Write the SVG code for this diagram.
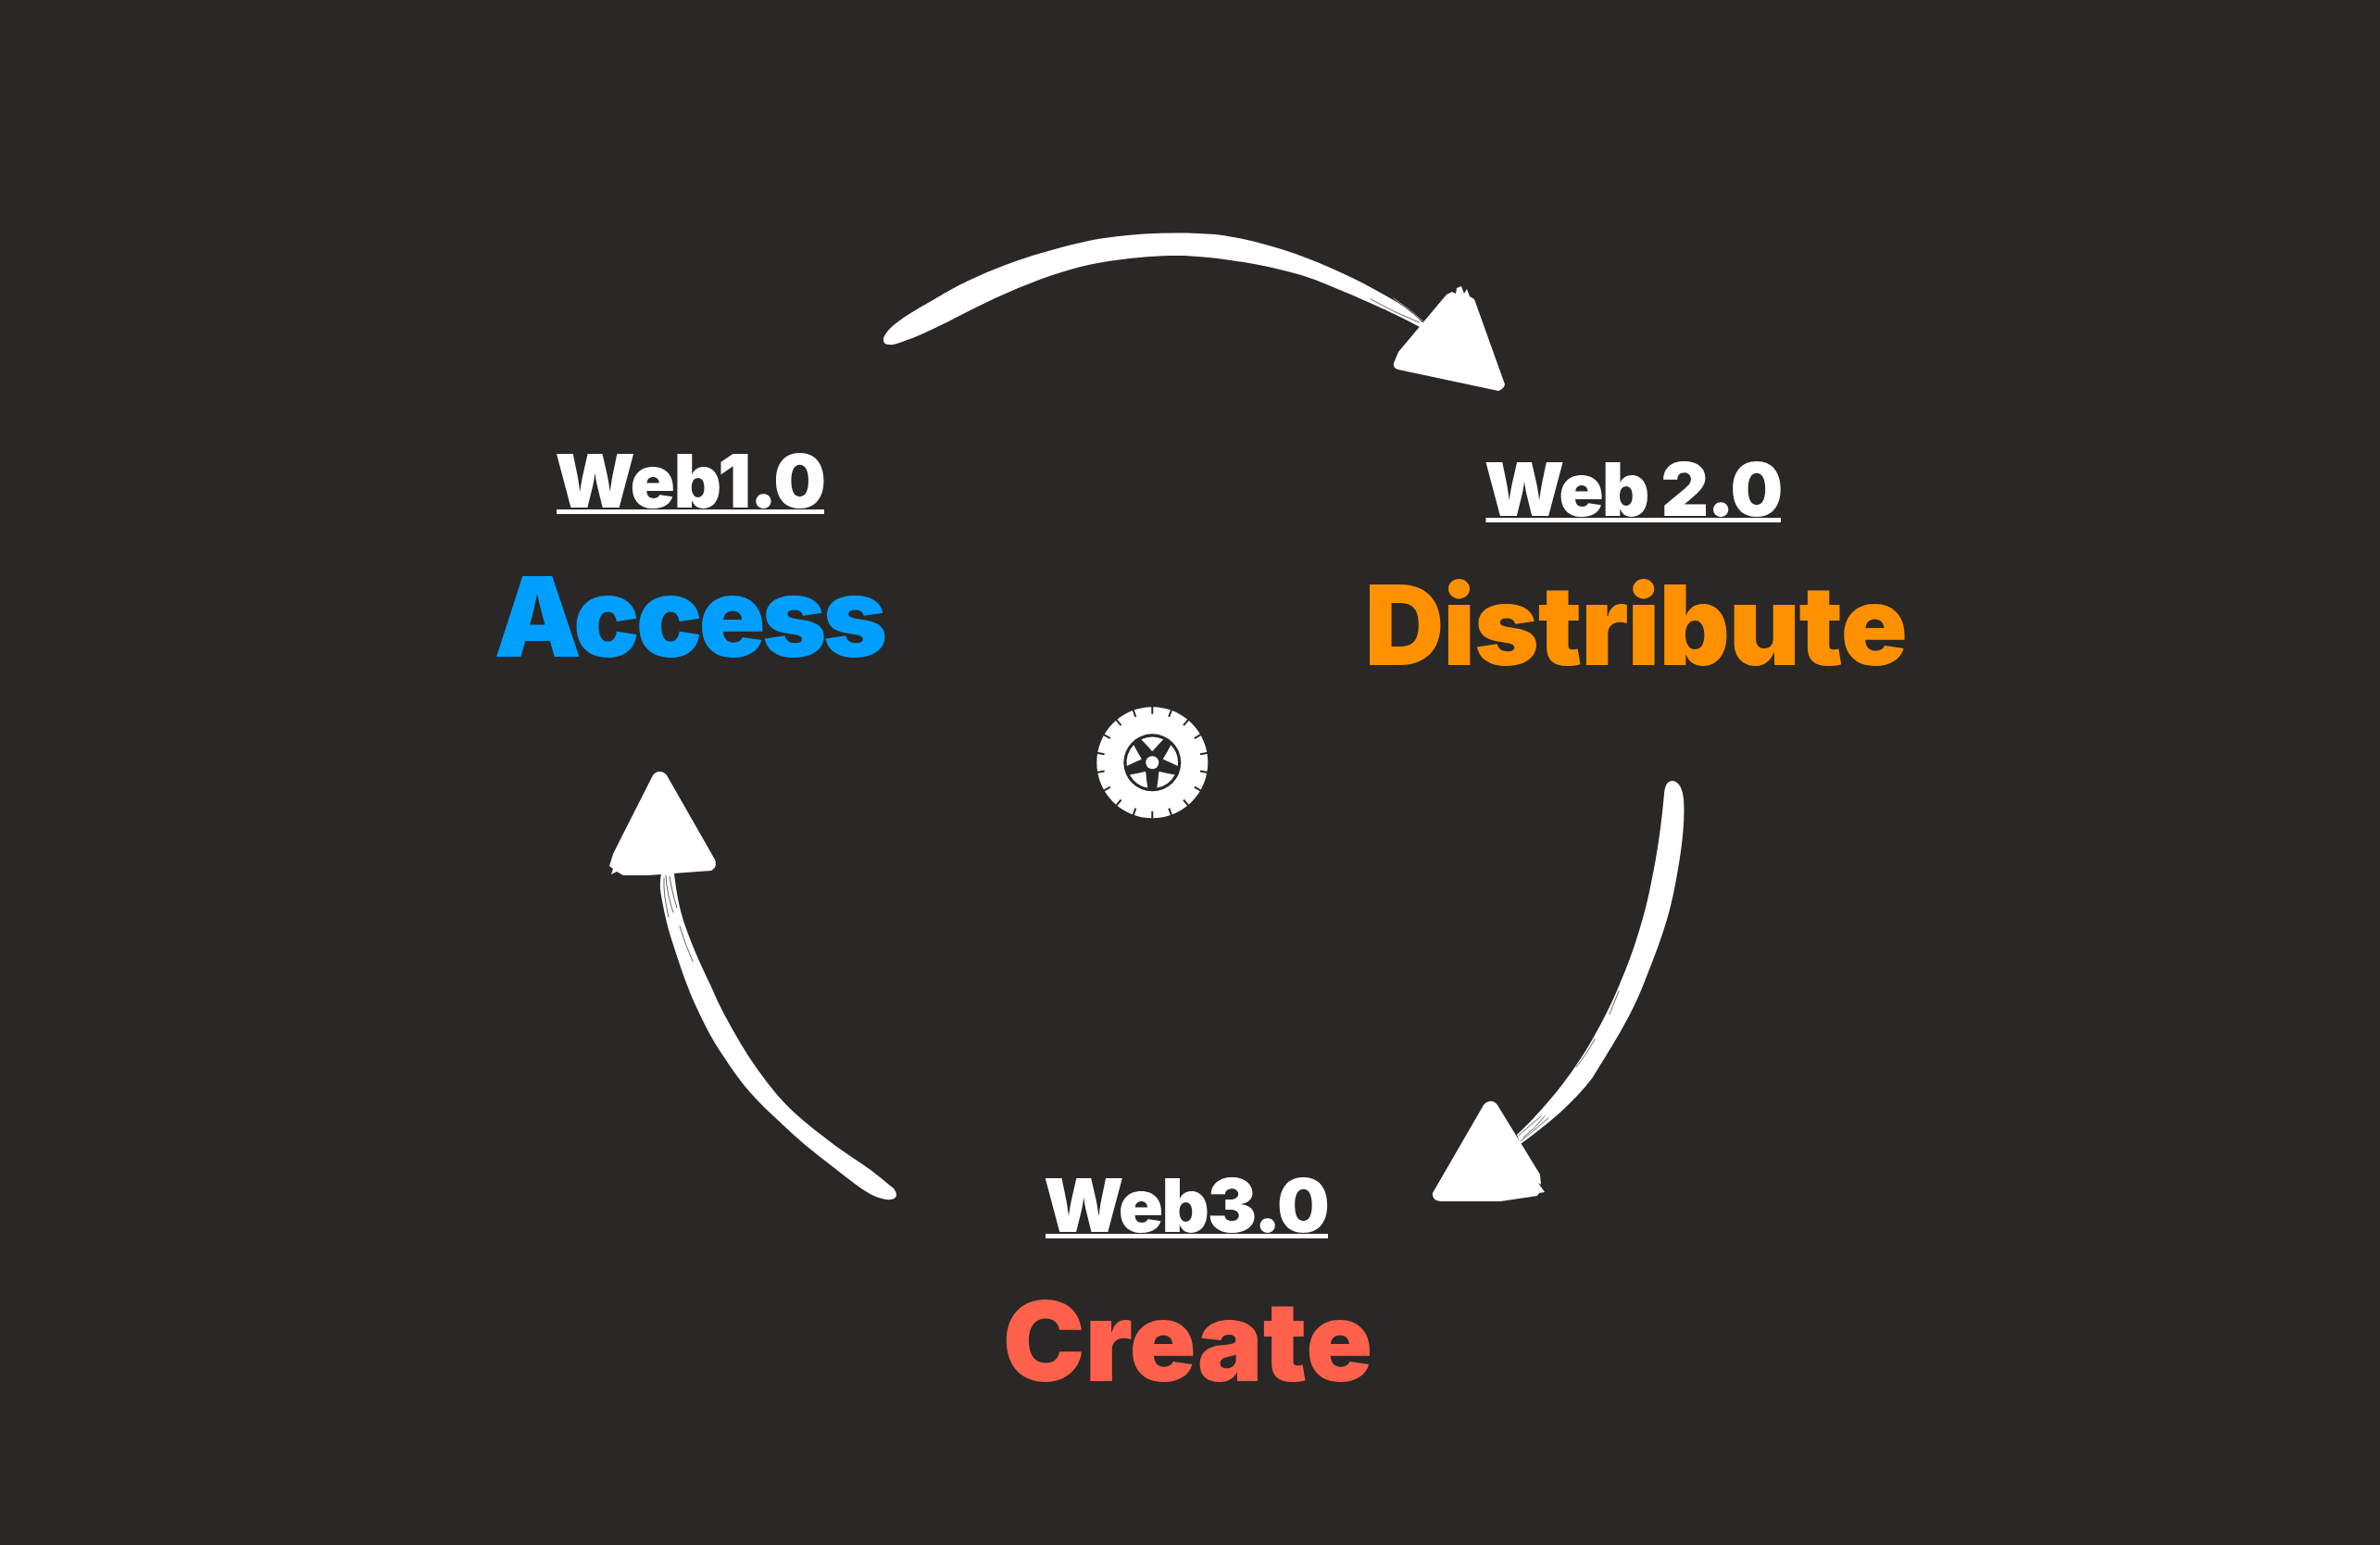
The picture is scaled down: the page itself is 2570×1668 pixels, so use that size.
<svg xmlns="http://www.w3.org/2000/svg" width="2570" height="1668" viewBox="0 0 2570 1668">
<style>
.t{font-family:"Inter","Liberation Sans",sans-serif;font-weight:900;text-anchor:middle;font-variation-settings:"opsz" 32}
.h{font-size:80px;fill:#fff}
.b{font-size:119px}
.u{fill:#fff}
.w{fill:#fff}
.d{fill:#292826}
.s{fill:none;stroke:#292826;stroke-width:1;stroke-linecap:round;opacity:.7}
.l{fill:none;stroke:#fff;stroke-width:1;stroke-linecap:round;opacity:.6}
</style>
<defs>
<path id="wedge" d="M-12-25A28 28 0 0 1 12-25Q5-18 0.5-12.5H-0.5Q-5-18-12-25Z"/>
<rect id="notch" x="-1" y="-61" width="2" height="8.5"/>
</defs>
<rect width="2570" height="1668" fill="#292826"/>
<g id="connectors" fill="#fff">
<g id="arrow-1-2">
<path d="M954 365C960 350 985 337 1014 320C1065 290 1120 272 1180 259C1225 251 1275 250 1312 253C1370 260 1440 285 1510 327Q1525 337 1538 350L1533 353C1500 335 1450 314 1420 302C1390 291 1335 279 1279 276C1235 275 1180 283 1156 291C1130 298 1095 312 1062 328C1040 338 1000 361 977 368Q965 373 960 372Q953 372 954 365Z"/>
<path d="M1578 309L1581 317L1584 312L1587 320L1592 323L1625 415Q1624 420 1618 422L1510 399Q1504 398 1505 392L1510 380L1562 318L1568 315L1572 317L1573 311Z"/>
<path class="s" d="M1340 283Q1385 291 1420 306M1470 325Q1500 340 1530 352M1485 332Q1505 343 1525 350M1480 323Q1505 337 1532 348M1495 334L1518 350"/>
<path class="l" d="M1505 322Q1524 335 1538 348"/>
</g>
<g id="arrow-2-3">
<path d="M1806 843Q1816 844 1818 863C1820 890 1815 925 1808 960C1802 990 1795 1012 1773 1067C1757 1105 1740 1130 1720 1163C1700 1190 1670 1215 1642 1235L1638 1225C1660 1205 1685 1175 1700 1153C1720 1125 1740 1085 1750 1060C1765 1025 1777 985 1783 953C1790 920 1794 890 1797 857Q1798 843 1806 843Z"/>
<path d="M1608 1189Q1613 1188 1617 1193L1663 1268L1664 1279L1661 1277L1668 1287L1662 1288L1660 1291L1647 1293L1620 1297L1556 1297Q1546 1296 1547 1288L1602 1193Q1604 1190 1608 1189Z"/>
<path class="s" d="M1640 1226Q1652 1215 1664 1205M1645 1228Q1658 1218 1668 1205M1642 1232Q1655 1222 1672 1207M1702 1152Q1712 1140 1722 1122M1748 1070Q1742 1085 1738 1095"/>
</g>
<g id="arrow-3-1">
<path d="M714 943C712 955 713 962 714 967C718 990 722 1005 727 1020C735 1045 742 1065 750 1083C760 1105 770 1125 783 1143C797 1165 812 1183 830 1200C848 1217 865 1233 883 1247C900 1260 918 1275 933 1285C942 1291 950 1294 957 1295Q968 1296 968 1290Q968 1287 965 1283C955 1275 948 1269 940 1263C925 1252 908 1242 893 1230C873 1215 855 1200 840 1183C825 1165 812 1147 800 1127C787 1105 776 1085 767 1063C757 1043 747 1020 740 1000C733 980 730 960 728 943Z"/>
<path d="M712 833Q717 833 720 837L772 928Q775 936 768 940L700 945L673 945L666 941L660 944L662 938L658 935L662 922L673 900L705 837Q708 833 712 833Z"/>
<path class="s" d="M719 945Q720 965 727 985M723 946Q726 965 731 980M717 948Q716 965 722 990M734 1000Q740 1020 748 1038"/>
</g>
</g>
<g id="web1">
<text class="t h" x="745" y="548" letter-spacing="-1.5">Web1.0</text>
<rect class="u" x="601" y="550" width="289" height="5"/>
<text class="t b" x="744" y="709" letter-spacing="-4" style="fill:#009fff">Access</text>
</g>
<g id="web2">
<text class="t h" x="1763" y="557" letter-spacing="-2">Web 2.0</text>
<rect class="u" x="1604.5" y="559" width="318.5" height="5"/>
<text class="t b" x="1766" y="718" letter-spacing="-1.3" style="fill:#ff9100">Distribute</text>
</g>
<g id="web3">
<text class="t h" x="1280.5" y="1330" letter-spacing="-2">Web3.0</text>
<rect class="u" x="1129" y="1332" width="305" height="5"/>
<text class="t b" x="1282.5" y="1491" style="fill:#ff614c">Create</text>
</g>
<g id="wheel" transform="translate(1244.3 823.3)">
<circle class="w" r="60"/>
<g class="d">
<use href="#notch"/><use href="#notch" transform="rotate(20)"/><use href="#notch" transform="rotate(40)"/><use href="#notch" transform="rotate(60)"/><use href="#notch" transform="rotate(80)"/><use href="#notch" transform="rotate(100)"/><use href="#notch" transform="rotate(120)"/><use href="#notch" transform="rotate(140)"/><use href="#notch" transform="rotate(160)"/><use href="#notch" transform="rotate(180)"/><use href="#notch" transform="rotate(200)"/><use href="#notch" transform="rotate(220)"/><use href="#notch" transform="rotate(240)"/><use href="#notch" transform="rotate(260)"/><use href="#notch" transform="rotate(280)"/><use href="#notch" transform="rotate(300)"/><use href="#notch" transform="rotate(320)"/><use href="#notch" transform="rotate(340)"/>
<circle r="31"/>
</g>
<g class="w">
<use href="#wedge"/><use href="#wedge" transform="rotate(72)"/><use href="#wedge" transform="rotate(144)"/><use href="#wedge" transform="rotate(216)"/><use href="#wedge" transform="rotate(288)"/>
<circle r="7"/>
</g>
</g>
</svg>
